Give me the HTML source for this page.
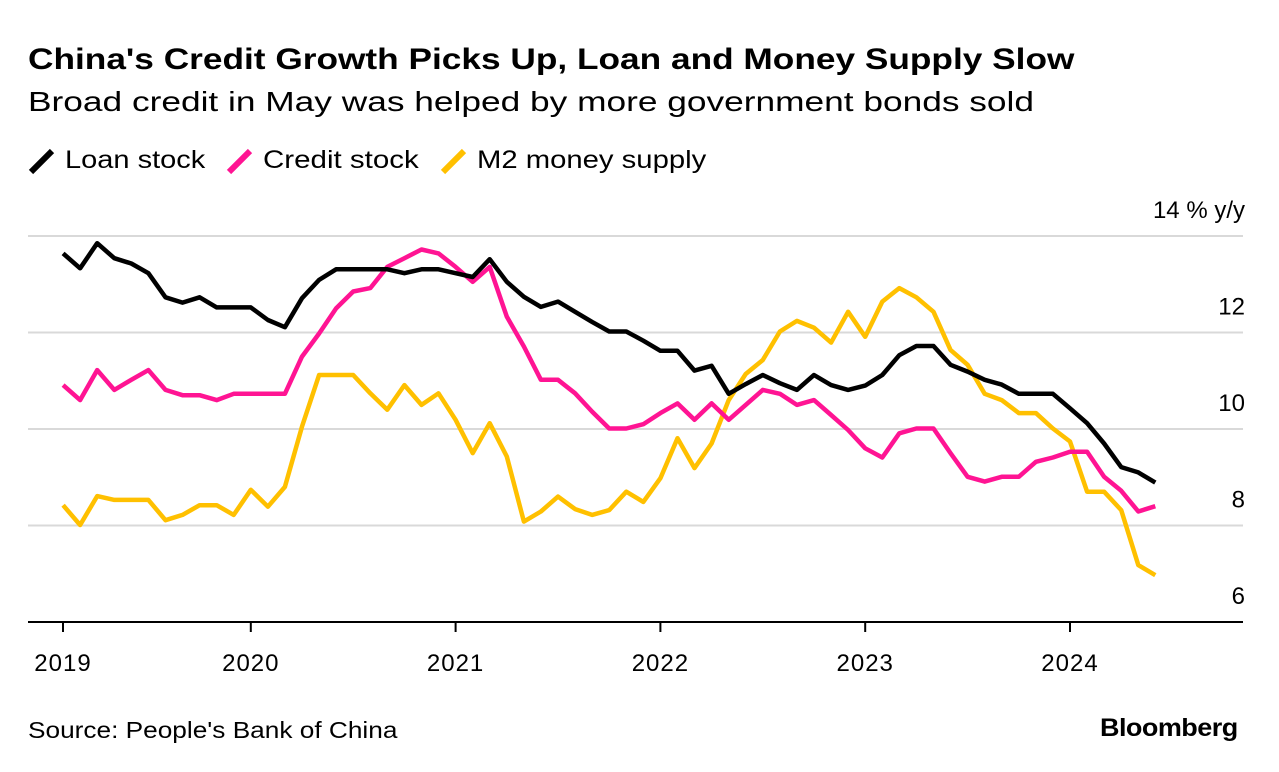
<!DOCTYPE html>
<html><head><meta charset="utf-8">
<style>
body{margin:0;background:#fff;font-family:"Liberation Sans",Arial,sans-serif;}
#wrap{position:relative;width:1279px;height:772px;overflow:hidden;}
.t{position:absolute;white-space:nowrap;color:#000;transform-origin:0 0;}
</style></head><body>
<div id="wrap">
<div class="t" style="left:28px;top:43px;font-size:30px;font-weight:bold;transform:scaleX(1.175);">China's Credit Growth Picks Up, Loan and Money Supply Slow</div>
<div class="t" style="left:28px;top:86px;font-size:28px;transform:scaleX(1.26);">Broad credit in May was helped by more government bonds sold</div>
<div>
<svg style="position:absolute;left:28px;top:148px" width="28" height="28"><path d="M3,24 L24,3" stroke="#000" stroke-width="6" fill="none"/></svg>
<div class="t" style="left:65px;top:146px;font-size:25px;transform:scaleX(1.16);">Loan stock</div>
<svg style="position:absolute;left:226px;top:148px" width="28" height="28"><path d="M3,24 L24,3" stroke="#ff1493" stroke-width="6" fill="none"/></svg>
<div class="t" style="left:263px;top:146px;font-size:25px;transform:scaleX(1.18);">Credit stock</div>
<svg style="position:absolute;left:440px;top:148px" width="28" height="28"><path d="M3,24 L24,3" stroke="#ffc000" stroke-width="6" fill="none"/></svg>
<div class="t" style="left:477px;top:146px;font-size:25px;transform:scaleX(1.17);">M2 money supply</div>
</div>
<svg id="chart" style="position:absolute;left:0;top:0" width="1279" height="772"></svg>
<div class="t" style="left:28px;top:717px;font-size:23px;transform:scaleX(1.14);">Source: People's Bank of China</div>
<div class="t" style="left:1100px;top:714px;font-size:25px;font-weight:bold;letter-spacing:-0.5px;transform:scaleX(1.08);">Bloomberg</div>
</div>
<script>
const years = [2019,2020,2021,2022,2023,2024];
const yTicks = [6,8,10,12,14];
const loanStock = [13.64,13.33,13.85,13.54,13.43,13.23,12.73,12.62,12.73,12.52,12.52,12.52,
12.26,12.11,12.71,13.09,13.31,13.31,13.31,13.31,13.23,13.31,13.31,13.23,
13.15,13.52,13.05,12.74,12.53,12.64,12.43,12.22,12.02,12.02,11.83,11.62,
11.62,11.21,11.31,10.73,10.93,11.12,10.95,10.81,11.12,10.91,10.81,10.9,
11.12,11.53,11.72,11.72,11.33,11.19,11.02,10.92,10.73,10.73,10.73,10.43,
10.12,9.7,9.21,9.1,8.89];
const creditStock = [10.91,10.6,11.22,10.81,11.02,11.22,10.81,10.7,10.7,10.6,10.73,10.73,
10.73,10.73,11.5,11.98,12.5,12.85,12.92,13.36,13.54,13.72,13.64,13.36,
13.05,13.36,12.33,11.71,11.02,11.02,10.74,10.36,10.01,10.01,10.1,10.33,
10.53,10.19,10.53,10.19,10.5,10.81,10.73,10.5,10.6,10.29,9.98,9.6,
9.41,9.91,10.01,10.01,9.5,9.01,8.91,9.01,9.01,9.32,9.41,9.53,
9.53,9.01,8.72,8.29,8.4];
const m2Supply = [8.42,8.01,8.61,8.53,8.53,8.53,8.11,8.22,8.42,8.42,8.22,8.74,
8.39,8.8,10.05,11.12,11.12,11.12,10.74,10.4,10.91,10.5,10.74,10.19,
9.5,10.12,9.43,8.08,8.29,8.6,8.34,8.22,8.32,8.7,8.49,8.98,
9.81,9.19,9.7,10.6,11.14,11.43,12.02,12.24,12.1,11.79,12.43,11.91,
12.64,12.92,12.73,12.43,11.64,11.33,10.73,10.6,10.33,10.33,10.01,9.74,
8.7,8.7,8.32,7.18,6.97];

const svg = document.getElementById('chart');
const NS = 'http://www.w3.org/2000/svg';
const monthW = 204.8/12;
function xMonth(i){ return 46 + (i+1)*monthW; }
function xYear(y){ return Math.max(63, 46 + (y-2019)*204.8); }
function yVal(v){ return 622 - (v-6)*48.25; }
function mk(tag, attrs){ const e=document.createElementNS(NS,tag); for(const k in attrs) e.setAttribute(k,attrs[k]); svg.appendChild(e); return e; }

yTicks.forEach(t=>{
  if(t>6){
    const g = mk('line',{x1:28,x2:1243,y1:yVal(t),y2:yVal(t),stroke:'#d9d9d9','stroke-width':2});
    
    
  }
  const lb = mk('text',{x:1245,y:yVal(t)-18,'text-anchor':'end','font-size':24,fill:'#000','font-family':'Liberation Sans, sans-serif'});
  lb.textContent = t===14 ? '14 % y/y' : String(t);
  
  
});
const ax = mk('line',{x1:28,x2:1243,y1:622,y2:622,stroke:'#000','stroke-width':2});


years.forEach(y=>{
  const x = xYear(y);
  const tk = mk('line',{x1:x,x2:x,y1:622,y2:632,stroke:'#000','stroke-width':2});
  
  
  const lb = mk('text',{x:x,y:671,'text-anchor':'middle','font-size':24,'letter-spacing':1,fill:'#000','font-family':'Liberation Sans, sans-serif'});
  lb.textContent = String(y);
  
  
});
function line(data,color,name){
  const d = data.map((v,i)=>(i?'L':'M')+xMonth(i).toFixed(1)+','+yVal(v).toFixed(1)).join(' ');
  const p = mk('path',{d:d,stroke:color,'stroke-width':4.5,fill:'none','stroke-linejoin':'round'});
  
  
}
line(m2Supply,'#ffc000','m2-money-supply-line');
line(creditStock,'#ff1493','credit-stock-line');
line(loanStock,'#000000','loan-stock-line');
</script>
</body></html>
